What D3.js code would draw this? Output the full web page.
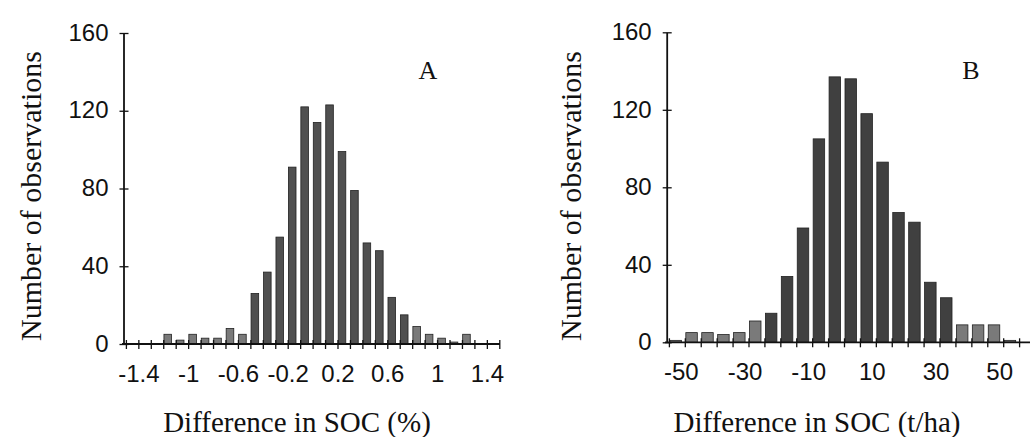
<!DOCTYPE html>
<html>
<head>
<meta charset="utf-8">
<script src="https://cdn.jsdelivr.net/npm/d3@7"></script>
<style>
  body { margin: 0; background: #fff; }
  svg { display: block; }
</style>
</head>
<body>
<svg id="chart" width="1030" height="437"></svg>
<script>
// Panel A: SOC difference in %, bins of 0.1 (left edge of each bin)
const binsA = [-1.2, -1.1, -1.0, -0.9, -0.8, -0.7, -0.6, -0.5, -0.4, -0.3, -0.2, -0.1,
               0.0, 0.1, 0.2, 0.3, 0.4, 0.5, 0.6, 0.7, 0.8, 0.9, 1.0, 1.1, 1.2];
const countsA = [5, 2, 5, 3, 3, 8, 5, 26, 37, 55, 91, 122,
                 114, 123, 99, 79, 52, 48, 24, 15, 9, 5, 3, 1, 5];
const tickLabelsA = [-1.4, -1, -0.6, -0.2, 0.2, 0.6, 1, 1.4];

// Panel B: SOC difference in t/ha, bins of 5
const binsB = [-55, -50, -45, -40, -35, -30, -25, -20, -15, -10, -5,
               0, 5, 10, 15, 20, 25, 30, 35, 40, 45, 50];
const countsB = [1, 5, 5, 4, 5, 11, 15, 34, 59, 105, 137,
                 136, 118, 93, 67, 62, 31, 23, 9, 9, 9, 1];
const tickLabelsB = [-50, -30, -10, 10, 30, 50];

const yTicks = [0, 40, 80, 120, 160];

const SANS = '"Liberation Sans", Arial, Helvetica, sans-serif';
const SERIF = '"Liberation Serif", "Times New Roman", Times, serif';
const INK = '#111';

const svg = d3.select('#chart');
svg.append('rect').attr('width', 1030).attr('height', 437).style('fill', '#fff');

function drawPanel(o) {
  const g = svg.append('g');
  const x = d3.scaleLinear().domain(o.xDomain).range(o.xRange);
  const y = d3.scaleLinear().domain([0, 160]).range(o.yRange);
  const base = o.yRange[0];

  // bars, left-aligned on their bin
  g.selectAll('rect.bar')
    .data(o.bins.map((b, i) => ({ b, n: o.counts[i] })))
    .join('rect')
    .attr('class', 'bar')
    .attr('x', d => x(d.b) + o.barOff)
    .attr('y', d => y(d.n))
    .attr('width', o.barW)
    .attr('height', d => base - y(d.n))
    .style('fill', d => d.n < 12 ? '#7a7a7a' : o.barFill)
    .style('stroke', '#222').style('stroke-width', '0.8');

  // x axis, ticks cross the line
  const xa = g.append('g')
    .attr('transform', `translate(0,${base})`)
    .call(d3.axisBottom(x)
      .tickValues(o.xTicks)
      .tickSizeOuter(0)
      .tickFormat(v => {
        const hit = o.labels.find(l => Math.abs(l - v) < 1e-6);
        return hit === undefined ? '' : String(hit);
      }));
  xa.select('.domain').attr('d', `M${o.xLine[0]},0H${o.xLine[1]}`)
    .style('stroke', INK).style('stroke-width', '1.8');
  xa.selectAll('.tick line').attr('y1', -4).attr('y2', 5)
    .style('stroke', INK).style('stroke-width', '1.3');
  xa.selectAll('.tick text')
    .attr('y', 38).attr('dy', 0).attr('dx', o.labelDx)
    .style('font-family', SANS).style('font-size', '24px').style('fill', INK);

  // y axis
  const ya = g.append('g')
    .attr('transform', `translate(${o.yAxisX},0)`)
    .call(d3.axisLeft(y).tickValues(yTicks).tickSizeOuter(0).tickFormat(d3.format('d')));
  ya.select('.domain').style('stroke', INK).style('stroke-width', '1.8');
  ya.selectAll('.tick line').attr('x1', -4).attr('x2', 5)
    .style('stroke', INK).style('stroke-width', '1.3');
  ya.selectAll('.tick text')
    .attr('x', -15).attr('dy', '0.3em')
    .style('font-family', SANS).style('font-size', '24px').style('fill', INK);

  // axis titles
  g.append('text')
    .attr('transform', `translate(${o.yTitleX},196) rotate(-90)`)
    .attr('text-anchor', 'middle')
    .style('font-family', SERIF).style('font-size', '30px').style('fill', INK)
    .text('Number of observations');
  g.append('text')
    .attr('x', o.xTitleX).attr('y', 432)
    .attr('text-anchor', 'middle')
    .style('font-family', SERIF).style('font-size', '29px').style('fill', INK)
    .text(o.xTitle);

  // panel letter
  g.append('text')
    .attr('x', o.letterX).attr('y', 79)
    .attr('text-anchor', 'middle')
    .style('font-family', SERIF).style('font-size', '26px').style('fill', INK)
    .text(o.letter);
}

drawPanel({
  bins: binsA, counts: countsA, labels: tickLabelsA,
  xDomain: [-1.5, 1.5], xRange: [125.9, 499.3],
  xTicks: d3.range(-15, 16).map(k => k / 10),
  xLine: [122, 500],
  yRange: [344, 33], yAxisX: 123.5,
  barOff: 0.7, barW: 7.6, labelDx: 0, barFill: '#505050',
  yTitleX: 41, xTitleX: 297, xTitle: 'Difference in SOC (%)',
  letter: 'A', letterX: 428
});

drawPanel({
  bins: binsB, counts: countsB, labels: tickLabelsB,
  xDomain: [-55, 55], xRange: [668.9, 1019.1],
  xTicks: d3.range(-55, 56, 5),
  xLine: [665, 1030],
  yRange: [342.3, 32.3], yAxisX: 666.7,
  barOff: 1, barW: 11.5, labelDx: -4, barFill: '#404040',
  yTitleX: 581, xTitleX: 817, xTitle: 'Difference in SOC (t/ha)',
  letter: 'B', letterX: 971
});
</script>
</body>
</html>
